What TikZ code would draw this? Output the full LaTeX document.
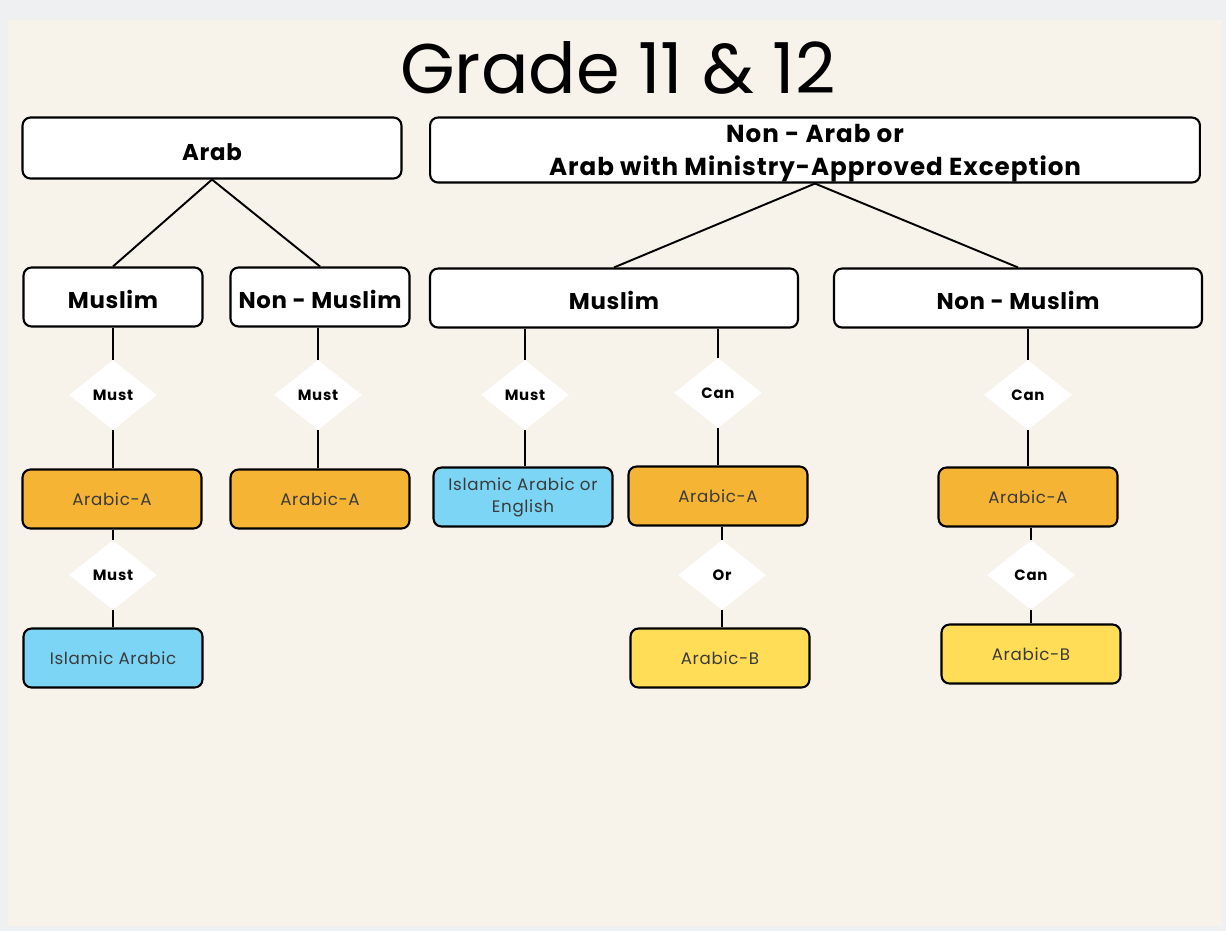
\documentclass[tikz,border=0pt]{standalone}
\usepackage{fontspec}
\setmainfont{Poppins}
\usetikzlibrary{positioning,shapes.geometric}

\definecolor{paper}{HTML}{F7F3EB}
\definecolor{rim}{HTML}{EEF0F1}
\definecolor{orangeA}{HTML}{F5B433}
\definecolor{yellowB}{HTML}{FFDD57}
\definecolor{blueI}{HTML}{7DD5F6}
\definecolor{inkgray}{HTML}{3A3A3A}

\tikzset{
	group/.style = {draw = black, line width = 1.2pt, fill = white, rounded corners = 0.16cm,
		align = center, font = \fontsize{13}{19}\selectfont\bfseries\addfontfeatures{LetterSpace=3}},
	tier/.style = {group, text height = 0.46cm, text depth = 0cm},
	subject/.style = {draw = black, line width = 1.2pt, rounded corners = 0.16cm,
		minimum width = 3.58cm, minimum height = 1.18cm, align = center, text = inkgray,
		font = \fontsize{9.5}{12.5}\selectfont\addfontfeatures{LetterSpace=4}},
	rule/.style = {diamond, fill = white, inner sep = 0pt, minimum width = 1.76cm,
		minimum height = 1.4cm, font = \fontsize{8.5}{10}\selectfont\bfseries\addfontfeatures{LetterSpace=5}},
	link/.style = {draw = black, line width = 1.1pt}
}

\begin{document}
\begin{tikzpicture}[x = 0.02cm, y = -0.02cm]

					\useasboundingbox (0,0) rectangle (1226,931);
					\fill[rim] (0,0) rectangle (1226,931);
					\fill[paper] (8,20) rectangle (1222,926);

					% title
					\node (title) at (618,68) {\fontsize{40}{46}\selectfont Grade 11 \& 12};

					% top level
					\node[tier, minimum width = 7.58cm, minimum height = 1.22cm, text height = 0.5cm] (arab) at (212,148) {Arab};
					\node[group, minimum width = 15.4cm, minimum height = 1.3cm, text depth = -0.08cm,
						font = \fontsize{14}{19}\selectfont\bfseries\addfontfeatures{LetterSpace=4}] (nonarab) at (815,150)
						{Non - Arab or\\Arab with Ministry-Approved Exception};

					% second level
					\node[tier, minimum width = 3.58cm, minimum height = 1.18cm] (muslimL) at (113,297) {Muslim};
					\node[tier, minimum width = 3.58cm, minimum height = 1.18cm] (nonmuslimL) at (320,297) {Non - Muslim};
					\node[tier, minimum width = 7.36cm, minimum height = 1.18cm] (muslimR) at (614,298) {Muslim};
					\node[tier, minimum width = 7.36cm, minimum height = 1.18cm] (nonmuslimR) at (1018,298) {Non - Muslim};

					\draw[link] (arab.south) -- (muslimL.north);
					\draw[link] (arab.south) -- (nonmuslimL.north);
					\draw[link] (nonarab.south) -- (muslimR.north);
					\draw[link] (nonarab.south) -- (nonmuslimR.north);

					% arab branch
					\node[rule] (mustL1) at (113,395) {Must};
					\node[rule] (mustL2) at (318,395) {Must};
					\node[subject, fill = orangeA] (arabicAL) at (112,499) {Arabic-A};
					\node[subject, fill = orangeA] (arabicAM) at (320,499) {Arabic-A};
					\node[rule] (mustL3) at (113,575) {Must};
					\node[subject, fill = blueI] (islamicL) at (113,658) {Islamic Arabic};

					\draw[link] (muslimL.south) -- (mustL1.north);
					\draw[link] (mustL1.south) -- (mustL1.south |- arabicAL.north);
					\draw[link] (nonmuslimL.south -| mustL2) -- (mustL2.north);
					\draw[link] (mustL2.south) -- (mustL2.south |- arabicAM.north);
					\draw[link] (arabicAL.south -| mustL3) -- (mustL3.north);
					\draw[link] (mustL3.south) -- (islamicL.north);

					% non-arab muslim branch
					\node[rule] (mustR) at (525,395) {Must};
					\node[rule] (canR1) at (718,393) {Can};
					\node[subject, fill = blueI] (islamicR) at (523,497) {Islamic Arabic or\\English};
					\node[subject, fill = orangeA] (arabicAR) at (718,496) {Arabic-A};
					\node[rule] (orR) at (722,575) {Or};
					\node[subject, fill = yellowB] (arabicBR) at (720,658) {Arabic-B};

					\draw[link] (mustR.north |- muslimR.south) -- (mustR.north);
					\draw[link] (mustR.south) -- (mustR.south |- islamicR.north);
					\draw[link] (canR1.north |- muslimR.south) -- (canR1.north);
					\draw[link] (canR1.south) -- (arabicAR.north);
					\draw[link] (orR.north |- arabicAR.south) -- (orR.north);
					\draw[link] (orR.south) -- (orR.south |- arabicBR.north);

					% non-arab non-muslim branch
					\node[rule] (canN1) at (1028,395) {Can};
					\node[subject, fill = orangeA] (arabicAN) at (1028,497) {Arabic-A};
					\node[rule] (canN2) at (1031,575) {Can};
					\node[subject, fill = yellowB] (arabicBN) at (1031,654) {Arabic-B};

					\draw[link] (canN1.north |- nonmuslimR.south) -- (canN1.north);
					\draw[link] (canN1.south) -- (arabicAN.north);
					\draw[link] (canN2.north |- arabicAN.south) -- (canN2.north);
					\draw[link] (canN2.south) -- (arabicBN.north);

				\end{tikzpicture}
\end{document}
